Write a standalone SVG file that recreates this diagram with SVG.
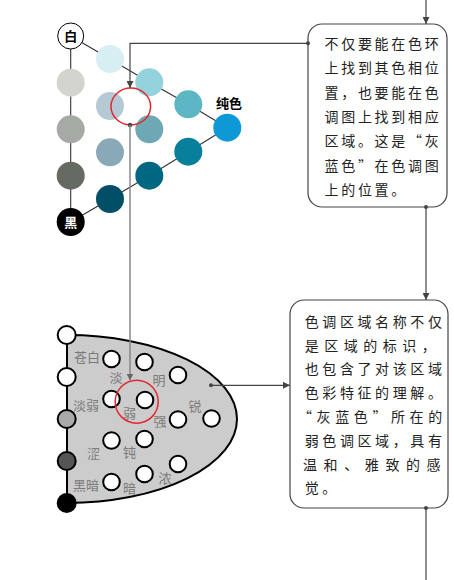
<svg xmlns="http://www.w3.org/2000/svg" width="454" height="580" viewBox="0 0 454 580">
<defs>
<style>
.box{fill:#fff;stroke:#444;stroke-width:1.2}
.bt{font-family:"Noto Sans CJK SC","Noto Sans",sans-serif;font-size:14px;fill:#222}
.conn{fill:none;stroke:#444;stroke-width:1.2}
.conn2{fill:none;stroke:#888;stroke-width:1.5}
.dot{fill:#444}
.ln{stroke:#333;stroke-width:1.1;fill:none}
.wc{fill:#fff;stroke:#000;stroke-width:2}
.lab{font-family:"Noto Sans CJK SC","Noto Sans",sans-serif;font-size:13px;fill:#7a7a7a;text-anchor:middle}
.red{fill:none;stroke:#e3262d;stroke-width:1.5}
</style>
<marker id="ah" viewBox="0 0 10 10" refX="10" refY="5" markerWidth="7" markerHeight="7" markerUnits="userSpaceOnUse" orient="auto"><path d="M0,0 L10,5 L0,10 Z" fill="#444"/></marker>
<marker id="ah2" viewBox="0 0 10 10" refX="10" refY="5" markerWidth="7" markerHeight="7" markerUnits="userSpaceOnUse" orient="auto"><path d="M0,0 L10,5 L0,10 Z" fill="#666"/></marker>
</defs>
<rect width="454" height="580" fill="#fff"/>

<g id="tone-triangle">
<line class="ln" x1="70.7" y1="36" x2="70.7" y2="222"/>
<polyline class="ln" points="70.7,36 110,59 149.3,82.3 188.3,104.3 227.3,127.7"/>
<polyline class="ln" points="70.7,222 110,199 149.3,175.7 188.3,151.7 227.3,127.7"/>
<circle cx="70.7" cy="82.7" r="14" fill="#d4d4cf"/>
<circle cx="70.7" cy="129.3" r="14" fill="#a5aaa4"/>
<circle cx="70.7" cy="175.7" r="14" fill="#656a63"/>
<circle cx="110" cy="59" r="14" fill="#d7eef3"/>
<circle cx="110" cy="106" r="14" fill="#b5c9d4"/>
<circle cx="110" cy="152.3" r="14" fill="#89a9b6"/>
<circle cx="110" cy="199" r="14" fill="#004f66"/>
<circle cx="149.3" cy="82.3" r="14" fill="#94d2dd"/>
<circle cx="149.3" cy="129.3" r="14" fill="#6fa8b5"/>
<circle cx="149.3" cy="175.7" r="14" fill="#006782"/>
<circle cx="188.3" cy="104.3" r="14" fill="#5cb6c4"/>
<circle cx="188.3" cy="151.7" r="14" fill="#08809b"/>
<circle cx="227.3" cy="127.7" r="14" fill="#0e98d6"/>
<circle cx="70.7" cy="36" r="13" fill="#fff" stroke="#000" stroke-width="1"/>
<text x="70.7" y="41" font-family="Noto Sans CJK SC, sans-serif" font-size="13" font-weight="bold" text-anchor="middle" fill="#000">白</text>
<circle cx="70.7" cy="222" r="14" fill="#000"/>
<text x="70.7" y="227" font-family="Noto Sans CJK SC, sans-serif" font-size="13" font-weight="bold" text-anchor="middle" fill="#fff">黑</text>
<text x="229" y="108" font-family="Noto Sans CJK SC, sans-serif" font-size="13" font-weight="bold" text-anchor="middle" fill="#000">纯色</text>
<ellipse class="red" cx="130.8" cy="106.5" rx="19.8" ry="18.4"/>
</g>

<g id="tone-map">
<path d="M67,335 L67,503 A170,84 0 0 0 67,335 Z" fill="#cccccc" stroke="#000" stroke-width="2"/>
<circle class="wc" cx="66.7" cy="335" r="9"/>
<circle class="wc" cx="66.7" cy="377" r="9"/>
<circle cx="66.7" cy="419" r="9" fill="#aaaaaa" stroke="#000" stroke-width="2"/>
<circle cx="66.7" cy="461" r="9" fill="#555555" stroke="#000" stroke-width="2"/>
<circle cx="66.7" cy="503" r="9" fill="#000" stroke="#000" stroke-width="2"/>
<circle class="wc" cx="111.5" cy="359" r="8.3"/>
<circle class="wc" cx="144.5" cy="362" r="8.3"/>
<circle class="wc" cx="178" cy="375" r="8.3"/>
<circle class="wc" cx="111.5" cy="399" r="8.3"/>
<circle class="wc" cx="145" cy="400" r="8.3"/>
<circle class="wc" cx="178" cy="419.5" r="8.3"/>
<circle class="wc" cx="211.5" cy="418.5" r="8.3"/>
<circle class="wc" cx="111.5" cy="440.5" r="8.3"/>
<circle class="wc" cx="144.5" cy="439" r="8.3"/>
<circle class="wc" cx="178" cy="464" r="8.3"/>
<circle class="wc" cx="111.5" cy="482" r="8.3"/>
<circle class="wc" cx="144.5" cy="474" r="8.3"/>
<text class="lab" x="87" y="361.5">苍白</text>
<text class="lab" x="116" y="381.5">淡</text>
<text class="lab" x="159" y="385">明</text>
<text class="lab" x="86" y="409.5">淡弱</text>
<text class="lab" x="129.5" y="417.5">弱</text>
<text class="lab" x="160" y="426">强</text>
<text class="lab" x="195" y="411">锐</text>
<text class="lab" x="93.5" y="457.5">涩</text>
<text class="lab" x="129.5" y="456.5">钝</text>
<text class="lab" x="165" y="482.5">浓</text>
<text class="lab" x="86" y="490">黑暗</text>
<text class="lab" x="129.5" y="492.5">暗</text>
<circle class="red" cx="136.7" cy="401.7" r="21.5"/>
</g>

<g id="box-top">
<rect class="box" x="308" y="24" width="139" height="183" rx="14"/>
<text class="bt" x="324.5" letter-spacing="2.7"><tspan x="324.5" y="48.5">不仅要能在色环</tspan><tspan x="324.5" y="73">上找到其色相位</tspan><tspan x="324.5" y="97.5">置，也要能在色</tspan><tspan x="324.5" y="122">调图上找到相应</tspan><tspan x="324.5" y="146">区域。这是“灰</tspan><tspan x="324.5" y="170.5">蓝色”在色调图</tspan><tspan x="324.5" y="195">上的位置。</tspan></text>
</g>

<g id="box-bottom">
<rect class="box" x="290" y="300" width="158" height="208" rx="14"/>
<text class="bt" x="304.7" y="326.7" letter-spacing="3.6">色调区域名称不仅</text>
<text class="bt" x="304.7" y="350.5" letter-spacing="5.5">是区域的标识，</text>
<text class="bt" x="304.7" y="374.3" letter-spacing="3.6">也包含了对该区域</text>
<text class="bt" x="304.7" y="398" letter-spacing="3.6">色彩特征的理解。</text>
<text class="bt" x="298" y="422" letter-spacing="4.6">“灰蓝色”所在的</text>
<text class="bt" x="304.7" y="445.7" letter-spacing="3.6">弱色调区域，具有</text>
<text class="bt" x="303" y="469.5" letter-spacing="6.6">温和、雅致的感</text>
<text class="bt" x="304.7" y="493.3" letter-spacing="3.6">觉。</text>
</g>

<g id="connectors">
<path class="conn" d="M426,0 L426,24" marker-end="url(#ah)"/>
<circle class="dot" cx="308" cy="43.3" r="2"/>
<path class="conn" d="M308,43.3 L130,43.3 L130,88" marker-end="url(#ah)"/>
<circle class="dot" cx="130" cy="125" r="2.2"/>
<path class="conn2" d="M130,125 L130,380.5" marker-end="url(#ah2)"/>
<circle class="dot" cx="211" cy="385.3" r="2"/>
<path class="conn" d="M211,385.3 L290,385.3" marker-end="url(#ah)"/>
<circle class="dot" cx="426" cy="207" r="2"/>
<path class="conn" d="M426,207 L426,300" marker-end="url(#ah)"/>
<circle class="dot" cx="426" cy="508" r="2"/>
<path class="conn" d="M426,508 L426,580"/>
</g>
</svg>
